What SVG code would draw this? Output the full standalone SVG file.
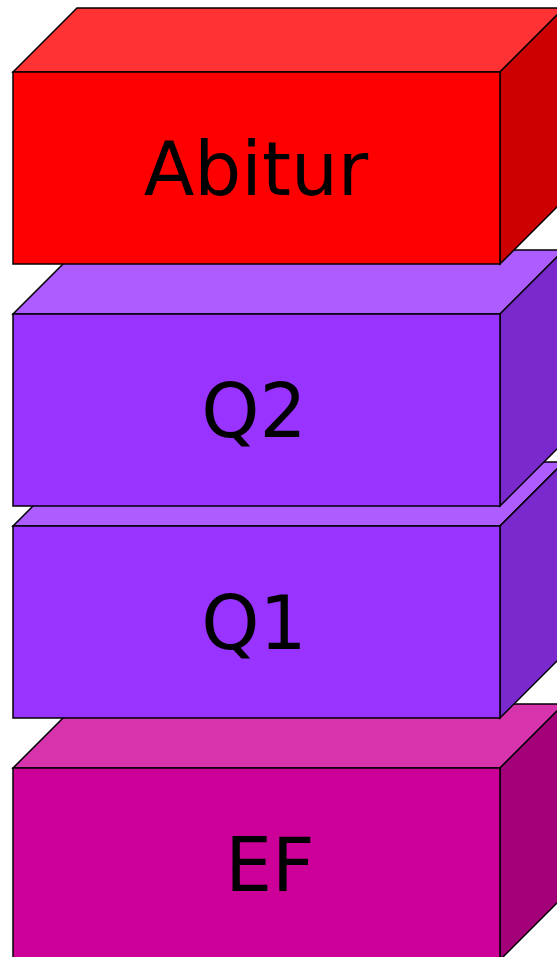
<svg xmlns="http://www.w3.org/2000/svg" width="557" height="957" viewBox="0 0 557 957">
<style>
  .e{stroke:#000;stroke-width:1.5;stroke-linejoin:miter}
  .t{font-family:"DejaVu Sans",sans-serif;font-size:74px;fill:#000;text-anchor:middle}
</style>
<g id="ef">
  <polygon class="e" fill="#D633AD" points="13,768 77,704 564,704 500,768"/>
  <polygon class="e" fill="#A3007A" points="500,768 564,704 564,896 500,960"/>
  <rect class="e" fill="#CC0099" x="13" y="768" width="487" height="192"/>
  <text class="t" x="270" y="891">EF</text>
</g>
<g id="q1">
  <polygon class="e" fill="#AD5CFF" points="13,526 77,462 564,462 500,526"/>
  <polygon class="e" fill="#7A29CC" points="500,526 564,462 564,654 500,718"/>
  <rect class="e" fill="#9933FF" x="13" y="526" width="487" height="192"/>
  <text class="t" x="254" y="649">Q1</text>
</g>
<g id="q2">
  <polygon class="e" fill="#AD5CFF" points="13,314 77,250 564,250 500,314"/>
  <polygon class="e" fill="#7A29CC" points="500,314 564,250 564,442 500,506"/>
  <rect class="e" fill="#9933FF" x="13" y="314" width="487" height="192"/>
  <text class="t" x="254" y="437">Q2</text>
</g>
<g id="abitur">
  <polygon class="e" fill="#FF3333" points="13,72 77,8 564,8 500,72"/>
  <polygon class="e" fill="#CC0000" points="500,72 564,8 564,200 500,264"/>
  <rect class="e" fill="#FF0000" x="13" y="72" width="487" height="192"/>
  <text class="t" x="256" y="195">Abitur</text>
</g>
<g id="connectors"/>
</svg>
